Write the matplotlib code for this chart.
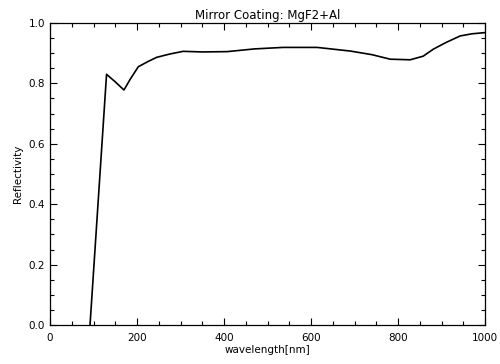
import matplotlib
matplotlib.use("Agg")
import matplotlib.pyplot as plt
from matplotlib.ticker import MultipleLocator

# Reflectivity curve
wavelength = [92, 130, 150, 170, 185, 203, 225, 245, 275, 306, 350, 407,
              470, 536, 614, 690, 740, 782, 828, 858, 881, 910, 943, 970, 1000]
reflectivity = [0.0, 0.830, 0.805, 0.778, 0.815, 0.855, 0.872, 0.886, 0.897,
                0.906, 0.904, 0.905, 0.914, 0.919, 0.919, 0.907, 0.895, 0.880, 0.878,
                0.890, 0.913, 0.935, 0.957, 0.964, 0.968]

x_ticks = [0, 200, 400, 600, 800, 1000]
y_ticks = [0.0, 0.2, 0.4, 0.6, 0.8, 1.0]

plt.rcParams['font.family'] = ['DejaVu Sans']

fig = plt.figure(figsize=(5.0, 3.64), dpi=100)
ax = fig.add_axes([0.1, 0.107, 0.87, 0.83])

ax.plot(wavelength, reflectivity, color='black', linewidth=1.2)

ax.set_xlim(0, 1000)
ax.set_ylim(0, 1.0)
ax.set_xticks(x_ticks)
ax.set_yticks(y_ticks)
ax.set_yticklabels([f"{v:.1f}" for v in y_ticks])
ax.xaxis.set_minor_locator(MultipleLocator(50))
ax.yaxis.set_minor_locator(MultipleLocator(0.05))
ax.tick_params(which='both', direction='in', top=True, right=True, labelsize=7.5, width=0.8)
ax.tick_params(which='major', length=5)
ax.tick_params(which='minor', length=3)
ax.tick_params(axis='x', pad=6)
for s in ax.spines.values():
    s.set_linewidth(0.9)

ax.set_title('Mirror Coating: MgF2+Al', fontsize=8.5, pad=3)
ax.set_xlabel('wavelength[nm]', fontsize=7.5, labelpad=1)
ax.set_ylabel('Reflectivity', fontsize=7.5, labelpad=4)

fig.savefig('out.png', dpi=100)
